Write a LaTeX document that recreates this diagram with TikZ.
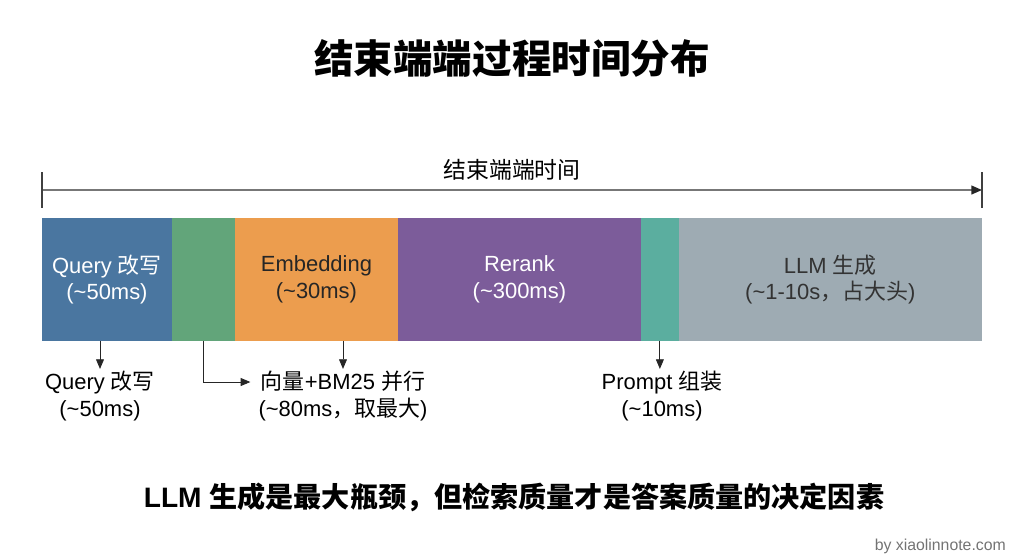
\documentclass[tikz,border=0pt]{standalone}
\usepackage{fontspec}
\setmainfont{Liberation Sans}
\newfontfamily\cjk{Noto Sans CJK SC}
\newcommand{\zh}[1]{{\cjk #1}}
\usetikzlibrary{positioning,arrows.meta}

\definecolor{qblue}{HTML}{4A76A0}
\definecolor{bmgreen}{HTML}{62A57A}
\definecolor{emborange}{HTML}{EC9D4E}
\definecolor{rrpurple}{HTML}{7C5C9A}
\definecolor{prteal}{HTML}{5BAE9F}
\definecolor{llmgray}{HTML}{9EABB3}
\definecolor{axisgray}{HTML}{777777}

\tikzset{
  seg/.style={inner sep=0pt, outer sep=0pt, minimum height=2.46cm, align=center,
    font=\fontsize{12.5}{15.3}\selectfont},
  note/.style={align=center, inner sep=1pt, font=\fontsize{12.5}{15.3}\selectfont},
  tip/.style={-{Triangle[length=5.5pt,width=4.5pt]}, draw=black!85, line width=0.5pt}
}

\begin{document}
\begin{tikzpicture}[x=0.02cm,y=-0.02cm]
		\useasboundingbox (0,0) rectangle (1024,559);
		% title
		\node[font=\fontsize{22.5}{26}\selectfont\cjk\bfseries] (title) at (512,58) {结束端端过程时间分布};
		% time axis
		\coordinate (t0) at (42,190);
		\coordinate (t1) at (982,190);
		\draw[axisgray, line width=0.8pt, -{Triangle[length=6pt,width=5pt,color=black!85]}] (t0) -- (t1);
		\draw[black!75, line width=0.8pt] (42,172) -- (42,208);
		\draw[black!75, line width=0.8pt] (982,172) -- (982,208);
		\node[font=\fontsize{13}{15.5}\selectfont\cjk] (tlabel) at (512,170) {结束端端时间};
		% segments
		\node[seg, fill=qblue, text=white, minimum width=2.6cm, anchor=north west] (q) at (42,218) {Query \zh{改写}\\(\textasciitilde50ms)};
		\node[seg, fill=bmgreen, minimum width=1.26cm, right=0pt of q] (bm) {};
		\node[seg, fill=emborange, text=black!85, minimum width=3.26cm, right=0pt of bm] (emb) {Embedding\\(\textasciitilde30ms)};
		\node[seg, fill=rrpurple, text=white, minimum width=4.86cm, right=0pt of emb] (rr) {Rerank\\(\textasciitilde300ms)};
		\node[seg, fill=prteal, minimum width=0.76cm, right=0pt of rr] (pr) {};
		\node[seg, fill=llmgray, text=black!80, minimum width=6.06cm, right=0pt of pr] (llm) {LLM \zh{生成}\\(\textasciitilde1-10s\zh{，占大头})};
		% notes below
		\node[note] (qnote) at (100,396) {Query \zh{改写}\\(\textasciitilde50ms)};
		\node[note] (vnote) at (343,396) {\zh{向量}+BM25 \zh{并行}\\(\textasciitilde80ms\zh{，取最大})};
		\node[note] (pnote) at (662,396) {Prompt \zh{组装}\\(\textasciitilde10ms)};
		\draw[tip] (q.south -| qnote.north) -- (qnote.north);
		\draw[tip] (emb.south -| vnote.north) -- (vnote.north);
		\draw[tip] (pr.south) -- (pr.south |- pnote.north);
		\draw[tip] (bm.south) |- ([xshift=-0.12cm,yshift=0.28cm]vnote.west);
		% bottom line
		\node[font=\fontsize{16}{19}\selectfont\bfseries] (summary) at (514,497) {LLM \zh{生成是最大瓶颈，但检索质量才是答案质量的决定因素}};
		\node[font=\fontsize{9}{11}\selectfont, text=black!55, anchor=east] (credit) at (1012,546) {by xiaolinnote.com};
\end{tikzpicture}
\end{document}
